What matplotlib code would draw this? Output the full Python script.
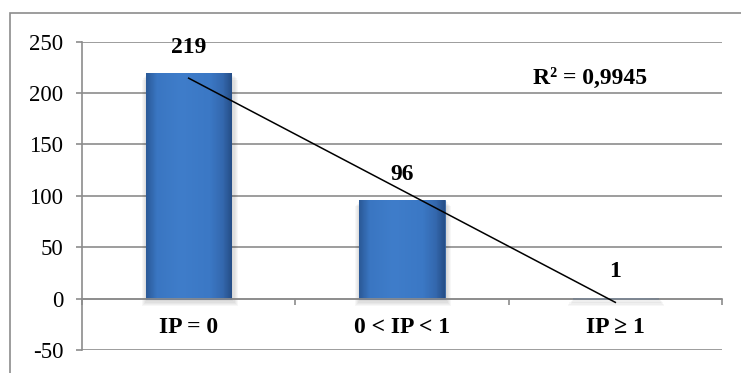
import matplotlib.pyplot as plt
import numpy as np
from matplotlib.colors import LinearSegmentedColormap
from matplotlib.patches import Rectangle

categories = ['IP = 0', '0 < IP < 1', 'IP ≥ 1']
counts = [219, 96, 1]
r2_label = 'R² = 0,9945'

plt.rcParams['font.family'] = ['Liberation Serif', 'DejaVu Serif']
plt.rcParams['axes.unicode_minus'] = False

fig = plt.figure(figsize=(7.41, 3.73), dpi=100)
ax = fig.add_axes([82/741, 1 - 350/373, 640/741, (350 - 41.5)/373])

x = np.arange(1, len(counts) + 1)
width = 0.4

# soft shadow under the bars
for i, h in zip(x, counts):
    for k in range(6):
        s = 0.01 * k
        ax.add_patch(Rectangle((i - width/2 + 0.005 - s/2, -1.5 - 1.2*k), width + s, h + 1.5,
                               facecolor='#000000', alpha=0.03, lw=0, zorder=2))

bars = ax.bar(x, counts, width, color='#3B78C6', edgecolor='#2D5E9E', lw=0.6, zorder=3)

# horizontal shading inside each bar
blue = LinearSegmentedColormap.from_list(
    'blue', [(0, '#2B5A98'), (0.12, '#3A76C2'), (0.4, '#3F7DCA'),
             (0.75, '#3B78C5'), (0.9, '#3468AE'), (1, '#264F88')])
grad = np.linspace(0, 1, 64).reshape(1, -1)
for b in bars:
    im = ax.imshow(grad, cmap=blue, aspect='auto', zorder=3.5,
                   extent=[b.get_x(), b.get_x() + b.get_width(), 0, b.get_height()])
    im.set_clip_path(b)

# linear trend
coef = np.polyfit(x, counts, 1)
ax.plot(x, np.polyval(coef, x), color='black', lw=1.1, zorder=5)

for i, v in zip(x, counts):
    ax.annotate(str(v), (i, v), xytext=(0, 11), textcoords='offset points',
                ha='center', va='bottom', fontsize=17, fontweight='bold')

# category names under the zero line
for i, name in zip(x, categories):
    ax.annotate(name, (i, 0), xytext=(0, -21), textcoords='offset points',
                ha='center', va='center', fontsize=17, fontweight='bold')

ax.text(2.88, 214, r2_label, ha='center', va='center', fontsize=17, fontweight='bold')

ax.set_xlim(0.5, 3.5)
ax.set_ylim(-50, 250)
ax.set_yticks(range(-50, 251, 50))
ax.yaxis.grid(True, color='#8c8c8c', lw=1.2, zorder=0)
ax.set_axisbelow(True)

ax.set_xticks([0.5, 1.5, 2.5, 3.5])
ax.tick_params(axis='x', length=4.5, width=1.2, color='#8c8c8c', labelbottom=False)
ax.tick_params(axis='y', length=4.5, width=1.2, color='#8c8c8c', labelsize=16.5, pad=9)

for side in ['top', 'right']:
    ax.spines[side].set_visible(False)
ax.spines['bottom'].set_position(('data', 0))
ax.spines['bottom'].set_zorder(4)
for side in ['bottom', 'left']:
    ax.spines[side].set_color('#8c8c8c')
    ax.spines[side].set_linewidth(1.2)

# chart frame
fig.patches.append(Rectangle((9.5/741, -0.2), 1.2, 1.2 - 12.5/373, transform=fig.transFigure,
                             fill=False, edgecolor='#8c8c8c', lw=1.2))

fig.savefig('out.png', dpi=100)
